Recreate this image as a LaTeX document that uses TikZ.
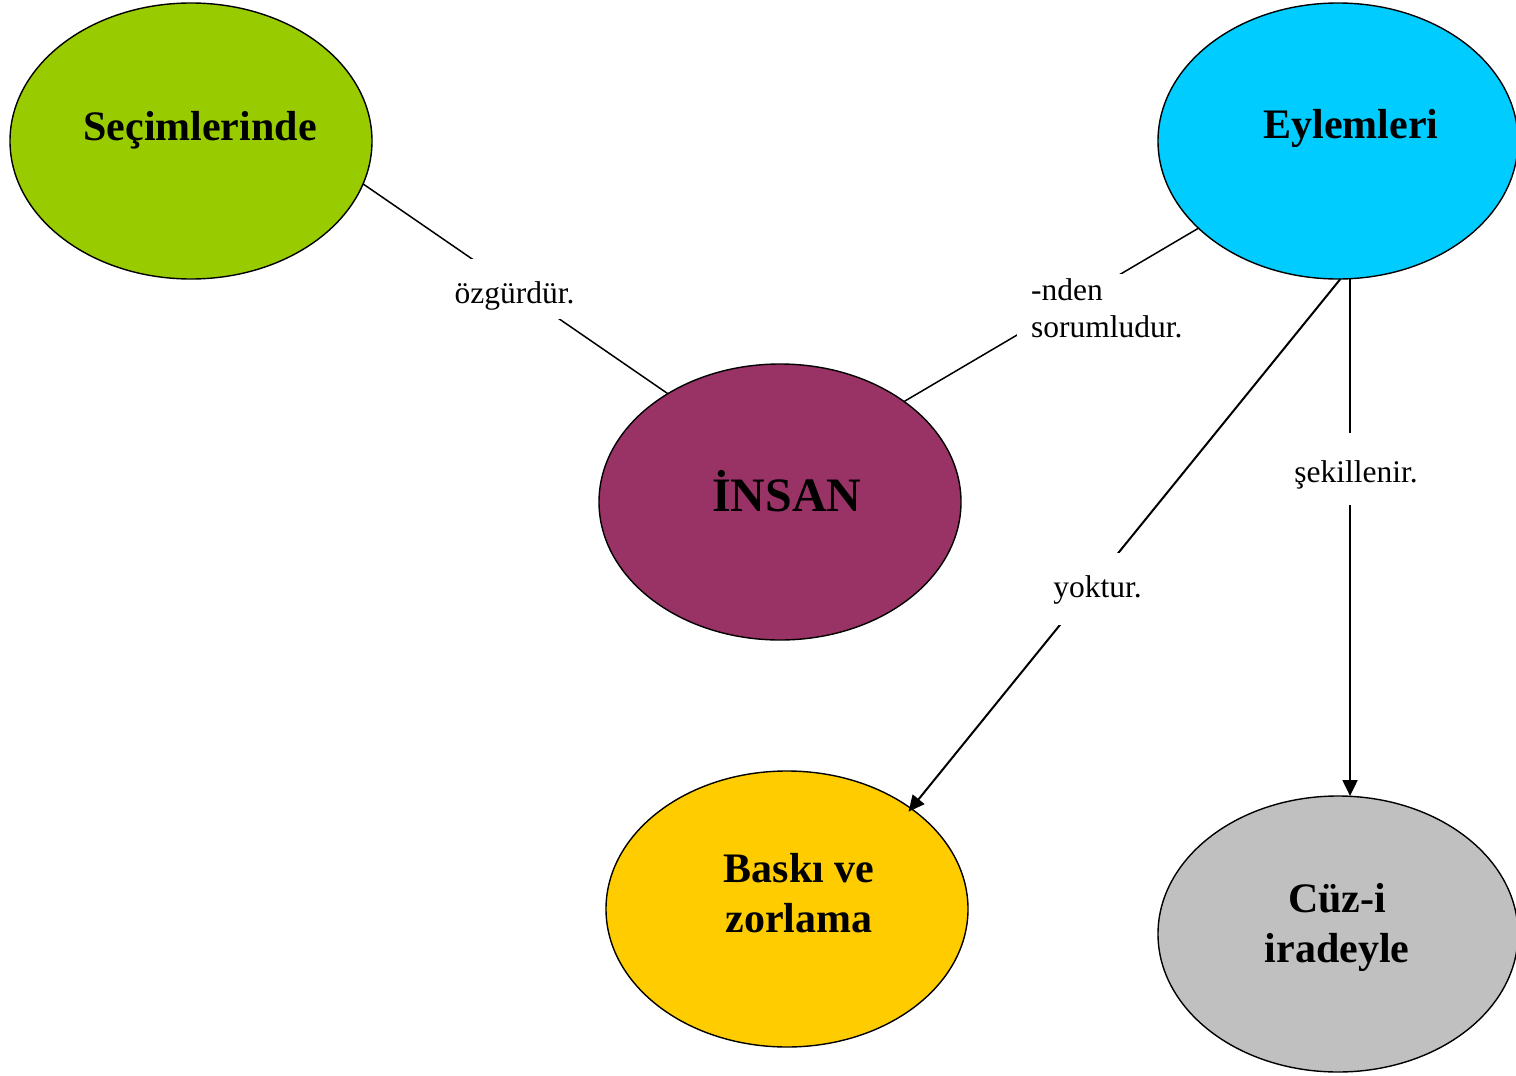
\documentclass[tikz,border=0pt]{standalone}
\usepackage{fontspec}
\setmainfont{Liberation Serif}
\usetikzlibrary{arrows.meta,shapes.geometric}
\definecolor{cgreen}{HTML}{99CC00}
\definecolor{ccyan}{HTML}{00CCFF}
\definecolor{cpurple}{HTML}{993366}
\definecolor{cyellow}{HTML}{FFCC00}
\definecolor{cgray}{HTML}{C0C0C0}
\tikzset{
  oval/.style={ellipse, draw=black, line width=1.4pt, minimum width=362pt, minimum height=276pt, inner sep=0pt, outer sep=0pt},
  title/.style={font=\fontsize{42}{50}\selectfont\bfseries, align=center, inner sep=0pt, anchor=base},
  lab/.style={font=\fontsize{31.5}{37}\selectfont, fill=white, inner xsep=3pt, inner ysep=0pt, anchor=base},
  conn/.style={line width=1.5pt},
  arr/.style={line width=2pt, -{Triangle[length=16pt,width=15pt]}}
}
\begin{document}
\begin{tikzpicture}[x=1pt,y=-1pt]
\fill[white] (0,0) rectangle (1516,1076);
\useasboundingbox (0,0) rectangle (1516,1076);
% ellipses
\node[oval, fill=cgreen] (sec) at (191,141) {};
\node[oval, fill=ccyan, minimum width=360pt] (eyl) at (1338,141) {};
\node[oval, fill=cpurple] (ins) at (780,502) {};
\node[oval, fill=cyellow] (bas) at (787,909) {};
\node[oval, fill=cgray, minimum width=360pt] (cuz) at (1338,934) {};
% titles
\node[title] (secT) at (200,140) {Seçimlerinde};
\node[title] (eylT) at (1351,138) {Eylemleri};
\node[title, font=\fontsize{48}{56}\selectfont\bfseries] (insT) at (787,511) {İNSAN};
\node[title] (basT) at (799,932) {Baskı ve\\zorlama};
\node[title] (cuzT) at (1337,962) {Cüz-i\\iradeyle};
% connectors
\draw[conn] (sec.-14.7) -- (ins.136.3);
\draw[conn] (ins.39.4) -- (eyl.-148.6);
\draw[arr, shorten >=-4pt] (eyl.-89.2) -- (bas.39.2);
\draw[arr] (eyl.-85) -- (eyl.-85 |- cuz.north);
% labels
\node[lab, text height=44pt, text depth=16pt] (l1) at (514.5,303) {özgürdür.};
\node[lab, anchor=north west, align=left, inner xsep=14pt, inner ysep=4pt] (l2) at (1017,274) {-nden\\sorumludur.};
\node[lab, text height=44pt, text depth=28pt] (l3) at (1097.5,597) {yoktur.};
\node[lab, text height=49pt, text depth=23pt] (l4) at (1356,482) {şekillenir.};
\end{tikzpicture}
\end{document}
